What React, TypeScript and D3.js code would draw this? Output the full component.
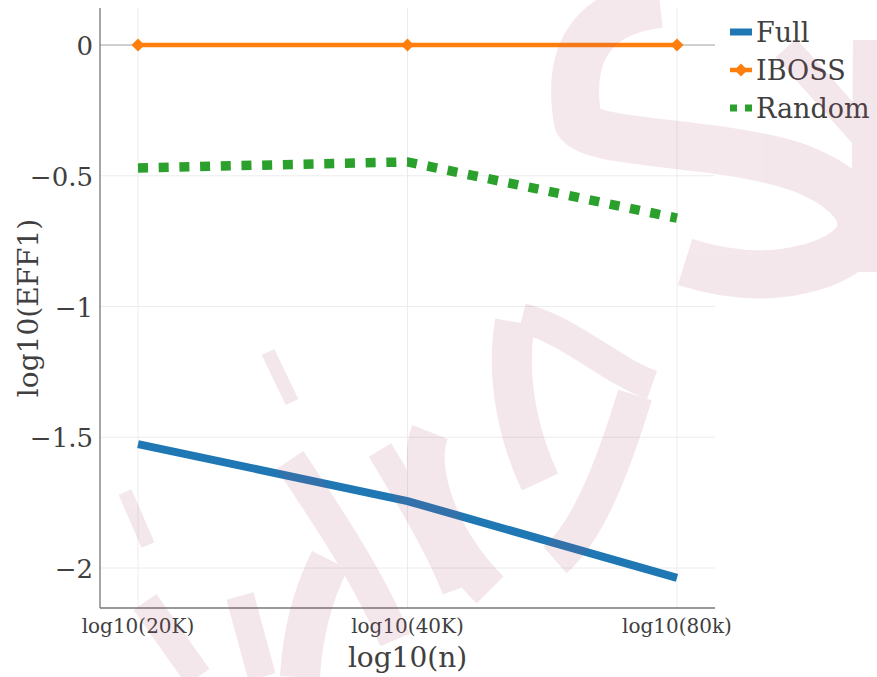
import * as d3 from 'd3';
import React from 'react';

// sample sizes (log10 of n) and tick labels
const sampleSizes = [20000, 40000, 80000];
const xTickLabels = ['log10(20K)', 'log10(40K)', 'log10(80k)'];

// log10(EFF1) per method
const fullValues = [-1.526, -1.744, -2.038];
const ibossValues = [0, 0, 0];
const randomValues = [-0.47, -0.447, -0.662];

const yTicks = [0, -0.5, -1, -1.5, -2];

// background watermark strokes (decoration only)
const watermarkStrokes = [
    { d: 'M 660 4 C 590 12, 566 55, 578 122 C 592 146, 720 140, 800 168 C 882 200, 882 252, 800 270 C 760 279, 720 273, 685 262', w: 48 },
    { d: 'M 866 40 L 864 272', w: 26 },
    { d: 'M 786 48 L 877 150', w: 28 },
    { d: 'M 268 352 L 292 402', w: 14 },
    { d: 'M 125 492 L 148 545', w: 14 },
    { d: 'M 145 602 L 198 677', w: 28 },
    { d: 'M 240 596 L 262 677', w: 28 },
    { d: 'M 290 460 C 330 520, 370 580, 395 640', w: 32 },
    { d: 'M 330 560 C 310 600, 302 640, 300 677', w: 40 },
    { d: 'M 380 450 C 410 500, 440 550, 455 590', w: 26 },
    { d: 'M 430 432 C 415 470, 440 540, 490 590', w: 38 },
    { d: 'M 515 322 C 505 380, 520 440, 540 482', w: 40 },
    { d: 'M 522 318 C 570 330, 610 370, 652 385', w: 30 },
    { d: 'M 635 395 C 615 460, 590 530, 555 560', w: 35 },
];

const W = 877;
const H = 677;
const plot = { left: 100, right: 715, top: 8, bottom: 608 };
const textColor = '#404040';
const font = '"DejaVu Serif", serif';

const colors = { full: '#1f77b4', iboss: '#ff7f0e', random: '#2ca02c' };

export default function App() {
    const lx = sampleSizes.map(n => Math.log10(n));
    const x = d3.scaleLinear().domain([lx[0], lx[2]]).range([138, 677]);
    const y = d3.scaleLinear().domain([0, -2]).range([45, 568]);

    const line = d3.line<number>()
        .x((_, i) => x(lx[i]))
        .y(d => y(d));

    const diamond = (cx: number, cy: number, r: number) =>
        `M ${cx} ${cy - r} L ${cx + r} ${cy} L ${cx} ${cy + r} L ${cx - r} ${cy} Z`;

    return (
        <svg width={W} height={H} style={{ position: 'absolute', left: 0, top: 0, background: 'white' }}>
            {/* grid */}
            <g stroke="#ececec" strokeWidth={1}>
                {lx.map((v, i) => (
                    <line key={'gx' + i} x1={x(v)} x2={x(v)} y1={plot.top} y2={plot.bottom} />
                ))}
                {yTicks.map(t => (
                    <line key={'gy' + t} x1={plot.left} x2={plot.right} y1={y(t)} y2={y(t)} />
                ))}
            </g>
            {/* zero line */}
            <line x1={plot.left} x2={plot.right} y1={y(0)} y2={y(0)} stroke="#aaaaaa" strokeWidth={1.2} />

            {/* series */}
            <path d={line(fullValues) || ''} fill="none" stroke={colors.full} strokeWidth={8} />
            <path d={line(ibossValues) || ''} fill="none" stroke={colors.iboss} strokeWidth={4.5} />
            {ibossValues.map((v, i) => (
                <path key={'m' + i} d={diamond(x(lx[i]), y(v), 6.5)} fill={colors.iboss} />
            ))}
            <path d={line(randomValues) || ''} fill="none" stroke={colors.random} strokeWidth={9.5}
                strokeDasharray="10 10.7" />

            {/* spines */}
            <line x1={plot.left} x2={plot.left} y1={plot.top} y2={plot.bottom} stroke="#777" strokeWidth={1.3} />
            <line x1={plot.left} x2={plot.right} y1={plot.bottom} y2={plot.bottom} stroke="#777" strokeWidth={1.3} />

            {/* tick labels */}
            <g fontFamily={font} fill={textColor}>
                {yTicks.map(t => (
                    <text key={'yt' + t} x={93} y={y(t) + 10} fontSize={26} textAnchor="end">
                        {t === 0 ? '0' : '\u2212' + Math.abs(t)}
                    </text>
                ))}
                {lx.map((v, i) => (
                    <text key={'xt' + i} x={x(v)} y={633} fontSize={20} textAnchor="middle">
                        {xTickLabels[i]}
                    </text>
                ))}
                <text x={(plot.left + plot.right) / 2} y={667} fontSize={28} textAnchor="middle">log10(n)</text>
                <text transform={`translate(38, ${(plot.top + plot.bottom) / 2}) rotate(-90)`} fontSize={28}
                    textAnchor="middle">log10(EFF1)</text>
            </g>

            {/* legend */}
            <g fontFamily={font} fill={textColor} fontSize={27}>
                <line x1={730} x2={752} y1={32} y2={32} stroke={colors.full} strokeWidth={7} />
                <text x={756} y={42}>Full</text>
                <line x1={730} x2={752} y1={70} y2={70} stroke={colors.iboss} strokeWidth={4.5} />
                <path d={diamond(741, 70, 6.5)} fill={colors.iboss} />
                <text x={756} y={80}>IBOSS</text>
                <line x1={730} x2={752} y1={108} y2={108} stroke={colors.random} strokeWidth={7}
                    strokeDasharray="7 8" />
                <text x={756} y={118}>Random</text>
            </g>

            {/* watermark */}
            <g opacity={0.13} fill="none" stroke="#af4b6c" strokeLinecap="butt" strokeLinejoin="round">
                {watermarkStrokes.map((s, i) => (
                    <path key={'w' + i} d={s.d} strokeWidth={s.w} />
                ))}
            </g>
        </svg>
    );
}
